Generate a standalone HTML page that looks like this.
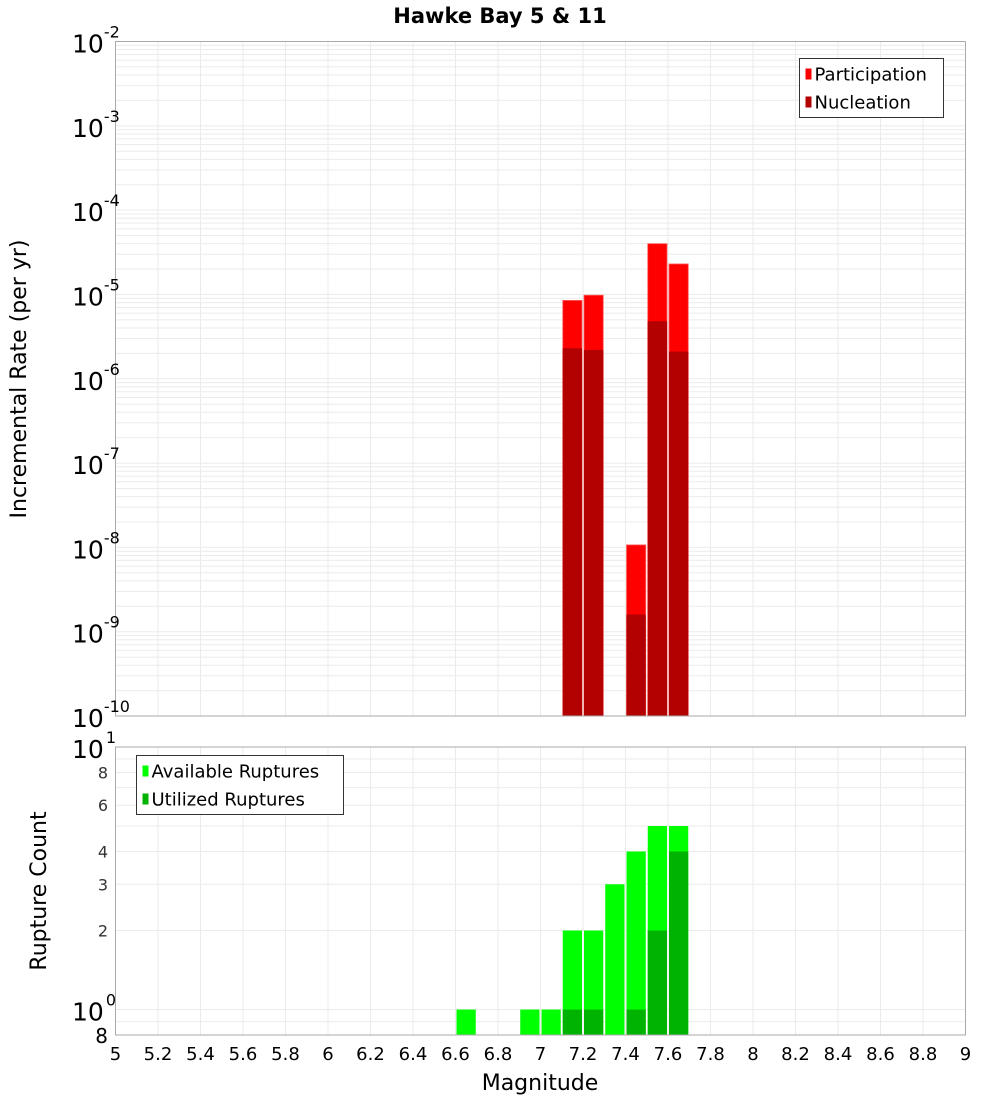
<!DOCTYPE html>
<html><head><meta charset="utf-8"><style>
body{margin:0;background:#fff;}
svg text{font-family:"DejaVu Sans","Liberation Sans",sans-serif;}
</style></head><body>
<svg id="c" width="1000" height="1100" xmlns="http://www.w3.org/2000/svg"></svg>
<script>
const binCenters=[7.15,7.25,7.45,7.55,7.65];
const participation=[8.5e-6,9.8e-6,1.07e-8,4.0e-5,2.3e-5];
const nucleation=[2.3e-6,2.2e-6,1.6e-9,4.8e-6,2.1e-6];
const countBins=[6.65,6.95,7.05,7.15,7.25,7.35,7.45,7.55,7.65];
const available=[1,1,1,2,2,3,4,5,5];
const utilizedBins=[7.15,7.25,7.45,7.55,7.65];
const utilized=[1,1,1,2,4];
const xTicks=[5,5.2,5.4,5.6,5.8,6,6.2,6.4,6.6,6.8,7,7.2,7.4,7.6,7.8,8,8.2,8.4,8.6,8.8,9];
const topExps=[-2,-3,-4,-5,-6,-7,-8,-9,-10];
const botTicks=[2,3,4,6,8];

const svg=document.getElementById('c');
const NS='http://www.w3.org/2000/svg';
function el(tag,attrs,parent){const e=document.createElementNS(NS,tag);for(const k in attrs)e.setAttribute(k,attrs[k]);(parent||svg).appendChild(e);return e;}
const X0=115.5,X1=965.5;
const x=m=>X0+(m-5)/4*(X1-X0);
const T0=41.5,T1=716;
const yTop=v=>T0+(-2-Math.log10(v))*(T1-T0)/8;
const B0=747,B1=1035;
const bDec=(B1-B0)/(1+Math.log10(1.25));
const yBot=v=>B0+(1-Math.log10(v))*bDec;

// title
let t=el('text',{x:500,y:23,'text-anchor':'middle','font-size':21,'font-weight':'bold'});
t.textContent='Hawke Bay 5 & 11';



// grids
const g=el('g',{stroke:'#ebebeb','stroke-width':1});


for(let e=-10;e<-2;e++){for(let k=1;k<10;k++){const yy=yTop(k*Math.pow(10,e));if(yy>T0&&yy<T1)el('line',{x1:X0,x2:X1,y1:yy,y2:yy},g);}}
for(let k=1;k<=10;k++){for(const s of [0.1,1]){const v=k*s;if(v>=0.8&&v<=10){const yy=yBot(v);el('line',{x1:X0,x2:X1,y1:yy,y2:yy},g);}}}
xTicks.forEach(m=>{const xx=x(m);el('line',{x1:xx,x2:xx,y1:T0,y2:T1},g);el('line',{x1:xx,x2:xx,y1:B0,y2:B1},g);});

// top bars
const bw=(X1-X0)/40;
binCenters.forEach((m,i)=>{
  const l=x(m-0.05)+1;
  let r=el('rect',{x:l,y:yTop(participation[i]),width:bw-2,height:T1-yTop(participation[i]),fill:'#ff0000',stroke:'#ff6060','stroke-width':0.8});
  
  
  r=el('rect',{x:l,y:yTop(nucleation[i]),width:bw-2,height:T1-yTop(nucleation[i]),fill:'#b30000'});
  
  
});
// bottom bars
countBins.forEach((m,i)=>{
  const l=x(m-0.05)+1;
  const r=el('rect',{x:l,y:yBot(available[i]),width:bw-2,height:B1-yBot(available[i]),fill:'#00ff00'});
  
  
});
utilizedBins.forEach((m,i)=>{
  const l=x(m-0.05)+1;
  const r=el('rect',{x:l,y:yBot(utilized[i]),width:bw-2,height:B1-yBot(utilized[i]),fill:'#00b300'});
  
  
});

// frames
let f=el('rect',{x:X0,y:T0,width:X1-X0,height:T1-T0,fill:'none',stroke:'#aaa'});


f=el('rect',{x:X0,y:B0,width:X1-X0,height:B1-B0,fill:'none',stroke:'#aaa'});



// top y ticks
topExps.forEach(e=>{
  const yy=yTop(Math.pow(10,e));
  const tx=el('text',{x:72,y:yy+11,'font-size':25});
  
  
  tx.textContent='10';
  const sp=el('tspan',{dy:-15,'font-size':16});sp.textContent=String(e);tx.appendChild(sp);
});
// bottom y ticks
[[1,'1'],[0,'0']].forEach(([e,s])=>{
  const yy=yBot(Math.pow(10,e));
  const tx=el('text',{x:72,y:yy+11,'font-size':25});
  
  
  tx.textContent='10';
  const sp=el('tspan',{dy:-15,'dx':2,'font-size':16});sp.textContent=s;tx.appendChild(sp);
});
botTicks.forEach(v=>{
  const tx=el('text',{x:108,y:yBot(v)+6,'font-size':16,'text-anchor':'end',fill:'#333'});
  
  
  tx.textContent=String(v);
});
let t8=el('text',{x:108,y:1043,'font-size':20,'text-anchor':'end'});t8.textContent='8';



// x ticks
xTicks.forEach(m=>{
  const tx=el('text',{x:x(m),y:1060,'font-size':18,'text-anchor':'middle'});
  
  
  tx.textContent=String(m);
});
t=el('text',{x:540,y:1090,'font-size':22,'text-anchor':'middle'});t.textContent='Magnitude';


t=el('text',{x:0,y:0,'font-size':22,'text-anchor':'middle',transform:'translate(26,379) rotate(-90)'});t.textContent='Incremental Rate (per yr)';


t=el('text',{x:0,y:0,'font-size':22,'text-anchor':'middle',transform:'translate(46,891) rotate(-90)'});t.textContent='Rupture Count';



// legends
function legend(x0,y0,w,items,name){
  const lg=el('g',{});
  
  
  el('rect',{x:x0,y:y0,width:w,height:59,fill:'#fff',stroke:'#333'},lg);
  items.forEach((it,i)=>{
    const yy=y0+15+i*28;
    el('rect',{x:x0+6,y:yy-5,width:6,height:11,fill:it[1]},lg);
    const tx=el('text',{x:x0+15,y:yy+7,'font-size':18},lg);
    
    
    tx.textContent=it[0];
  });
}
legend(799.5,58.5,144,[['Participation','#ff0000'],['Nucleation','#b30000']],'top-legend');
legend(136.5,755.5,207,[['Available Ruptures','#00ff00'],['Utilized Ruptures','#00b300']],'bottom-legend');
</script>
</body></html>
